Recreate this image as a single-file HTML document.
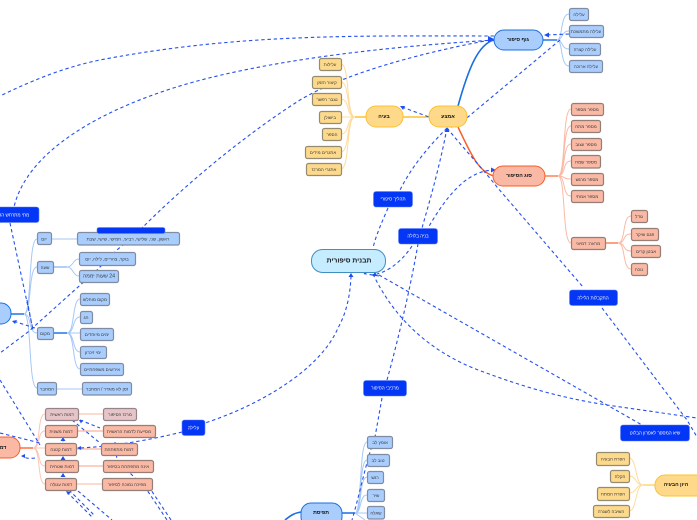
<!DOCTYPE html>
<html lang="he"><head><meta charset="utf-8"><title>תבנית סיפורית</title>
<style>
html,body{margin:0;padding:0;background:#fff;width:697px;height:520px;overflow:hidden}
svg{display:block;font-family:"Liberation Sans","DejaVu Sans",sans-serif}
text{text-anchor:middle;dominant-baseline:central;direction:rtl;font-size:4.5px;fill:#3a3a3a}
.m{font-size:6.8px;font-weight:bold;fill:#111}
.s{font-size:5.2px;font-weight:bold;fill:#111}
.w{fill:#fff;font-size:4.6px}
.b rect{fill:#a9cdfd;stroke:#7f8ca3;stroke-width:1.2}
.y rect{fill:#fdd98c;stroke:#958b70;stroke-width:1.2}
.o rect{fill:#f9b9a5;stroke:#947e76;stroke-width:1.2}
.p rect{fill:#e6c5c8;stroke:#97838a;stroke-width:1.2}
.l rect{fill:#0436f6;stroke:#5f80f8;stroke-width:.6}
.d path{fill:none;stroke:#2350ee;stroke-width:1.1;stroke-dasharray:3.4 2.8}
.c path{fill:none;stroke-width:1}
.a{fill:#1f4ff0}
</style></head><body>
<svg width="697" height="520" viewBox="0 0 697 520" xmlns="http://www.w3.org/2000/svg">

<!-- branch connectors -->
<g class="c">
<path stroke="#a6c8f7" d="M544,40H557C563,40 560,14 569,14M557,40C563,40 561,31 569,31M557,40C563,40 561,49 569,49M557,40C563,40 560,66 569,66"/>
<path stroke="#1a6fe0" style="stroke-width:1.4" d="M543,40H557"/>
<path stroke="#1a6fe0" style="stroke-width:1.6" d="M458,106C468,70 478,44 494,40"/>
<path stroke="#fb5c28" style="stroke-width:1.5" d="M458,127C470,152 478,172 494,176"/>
<path stroke="#fdc12f" style="stroke-width:1.5" d="M403,117H429M355,117H366"/>
<path stroke="#fedc9c" d="M355,117C346,117 350,64 341,64M355,117C346,117 350,82 341,82M355,117C346,117 350,99 341,99M355,117H341M355,117C346,117 350,134 341,134M355,117C346,117 350,152 341,152M355,117C346,117 350,169 341,169"/>
<path stroke="#fb7a50" style="stroke-width:1.4" d="M545,176H558"/>
<path stroke="#fcb9a5" d="M558,176C566,176 562,109 571,109M558,176C566,176 562,126 571,126M558,176C566,176 562,144 571,144M558,176C566,176 562,161 571,161M558,176C566,176 562,179 571,179M558,176C566,176 562,196 571,196M558,176C566,176 562,243 571,243"/>
<path stroke="#fb7a50" style="stroke-width:1.4" d="M605,243H618"/>
<path stroke="#fcb9a5" d="M618,243C626,243 622,216 631,216M618,243C626,243 622,234 631,234M618,243C626,243 622,251 631,251M618,243C626,243 622,269 631,269"/>
<path stroke="#2e7fe8" style="stroke-width:1.6" d="M11,314H24"/>
<path stroke="#a6c8f7" d="M24,314C32,314 28,239 37,239M24,314C32,314 28,267 37,267M24,314C32,314 28,333 37,333M24,314C32,314 28,388 37,388"/>
<path stroke="#c3d9f8" style="stroke-width:1.6" d="M51,239H77M56,389H82"/>
<path stroke="#7cb0f2" style="stroke-width:1.2" d="M53,267H67"/>
<path stroke="#a6c8f7" d="M67,267C73,267 73,259 79,259M67,267C73,267 73,276 79,276"/>
<path stroke="#2e7fe8" style="stroke-width:1.6" d="M53,333H67"/>
<path stroke="#a6c8f7" d="M67,333C75,333 72,299 80,299M67,333C75,333 72,317 80,317M67,333H80M67,333C75,333 72,352 80,352M67,333C75,333 72,369 80,369"/>
<path stroke="#fb7a50" style="stroke-width:1.6" d="M20,448H33"/>
<path stroke="#fcc6b6" d="M33,448C41,448 37,414 45,414M33,448C41,448 37,431 45,431M33,448H45M33,448C41,448 37,466 45,466M33,448C41,448 37,484 45,484"/>
<path stroke="#fcd0c2" style="stroke-width:1.4" d="M78,414H103M76,484H102"/>
<path stroke="#fb9f85" d="M77,431H103M76,449H101M78,466H103"/>
<path stroke="#1a6fe0" style="stroke-width:1.6" d="M342,513H355M301,512C294,513 290,516 285,520"/>
<path stroke="#a6c8f7" d="M355,513C362,513 359,442 367,442M355,513C362,513 359,460 367,460M355,513C362,513 359,477 367,477M355,513C362,513 359,495 367,495M355,513H367M355,513L365,520"/>
<path stroke="#fdc12f" d="M655,485H643"/>
<path stroke="#fedc9c" d="M643,485C635,485 637,458 629,458M643,485C635,485 637,476 629,476M643,485C635,485 637,493 629,493M643,485C635,485 637,511 629,511"/>
</g>

<!-- dashed relationship lines -->
<g class="d">
<path d="M494,36C360,36 240,33 100,60C60,68 25,84 0,96"/>
<path d="M494,40C400,46 300,56 213,77C130,97 30,140 14,207"/>
<path d="M490,40C410,55 340,76 300,100C240,138 180,190 143,227"/>
<path d="M143,227L117,250L97,270L28,332L0,353"/>
<path d="M569,34L546,35M560,40L468,117L447,130"/>
<path d="M402,107L429,117"/>
<path d="M447,128C465,150 482,168 497,187L583,287"/>
<path d="M602,308L687,420L697,437"/>
<path d="M447,128C425,150 410,170 400,190"/>
<path d="M388,208C382,222 376,235 373,248"/>
<path d="M447,128C440,165 430,200 422,228"/>
<path d="M495,170C470,170 450,190 428,228"/>
<path d="M412,246C404,258 392,270 377,274"/>
<path d="M387,380C398,340 410,290 418,244"/>
<path d="M382,398L375,437L370,452C362,480 358,500 352,520"/>
<path d="M379,275L607,405L642,425"/>
<path d="M373,274C395,320 430,350 473,368C515,384 555,397 607,405L697,418"/>
<path d="M379,276L366,274"/>
<path d="M351,276C350,300 345,315 338,328C320,370 260,405 205,423"/>
<path d="M182,432C150,440 110,447 78,448"/>
<path d="M10,223L33,330M27,300L33,330"/>
<path d="M35,328L13,321"/>
<path d="M0,380L40,445"/>
<path d="M0,433L40,443"/>
<path d="M80,420L100,428M72,420L100,443"/>
<path d="M35,458C28,459 26,458 22,456"/>
<path d="M63,460V472"/>
<path d="M63,438V443"/>
<path d="M67,492L93,518M69,490L95,516"/>
<path d="M78,491L112,520"/>
<path d="M115,442L117,460L147,490L167,520M147,480L151,490L171,520"/>
</g>

<!-- arrowheads -->
<g class="a">
<path d="M494,39l-6,-3v6z"/><path d="M544,35l5,-2.500v5z"/>
<path d="M400,106l5,0l-2,4z"/><path d="M447,128l-2.500,4h5z"/>
<path d="M496,170l-5,-2.500v5z"/>
<path d="M351,273l-2.500,4h5z"/><path d="M365,275l-2.500,-3.500h5z"/><path d="M375,272l-2.500,4h5z"/>
<path d="M12,321l5,-1l-2,4z"/><path d="M77,448l4,-2v4z"/><path d="M21,456l4,-2v4z"/>
<path d="M63,437l-2.500,4h5z"/><path d="M63,456l-2.500,4h5z"/><path d="M63,473l-2.500,4h5z"/>
<path d="M66,491l5,1l-3,3z"/><path d="M79,420l4,0l-2,3.500z"/>
</g>

<!-- main nodes -->
<rect x="494" y="30" width="49" height="20" rx="10" fill="#a9cdfd" stroke="#1a6fe0"/>
<text x="518" y="40" class="s">גוף סיפור</text>
<rect x="429" y="106" width="38" height="21" rx="10" fill="#fed98a" stroke="#fdc12f"/>
<text x="448" y="117" class="s">אמצע</text>
<rect x="366" y="106" width="37" height="21" rx="10" fill="#fed98a" stroke="#fdc12f"/>
<text x="384" y="117" class="s">בעיה</text>
<rect x="493" y="166" width="52" height="20" rx="10" fill="#f9b9a5" stroke="#fb5c28"/>
<text x="519" y="176" class="s">סוג הסיפור</text>
<rect x="311.500" y="249.500" width="74" height="23" rx="11" fill="#c6ecff" stroke="#3f8fc4"/>
<text x="349" y="261" class="m">תבנית סיפורית</text>
<rect x="-30" y="303" width="41" height="21" rx="10" fill="#a9cdfd" stroke="#1a6fe0"/>
<rect x="-24" y="437" width="44" height="21" rx="10" fill="#f9b9a5" stroke="#fb5c28"/>
<text x="3" y="448" class="s">דמ</text>
<rect x="301" y="503" width="41" height="24" rx="10" fill="#a9cdfd" stroke="#1a6fe0"/>
<text x="321" y="513" class="s">תפיסת</text>
<rect x="655" y="475" width="70" height="21" rx="10" fill="#fed98a" stroke="#fdc12f"/>
<text x="676" y="485" class="s">היון הבעיה</text>

<!-- blue child nodes -->
<g class="b">
<rect x="569.500" y="8.500" width="19" height="12" rx="2"/><text x="579" y="14.500">עלילה</text>
<rect x="569.500" y="25.500" width="34" height="12" rx="2"/><text x="586" y="31.500">עלילה מתמשכת</text>
<rect x="569.500" y="43.500" width="31" height="12" rx="2"/><text x="585" y="49.500">עלילה קצרה</text>
<rect x="569.500" y="60.500" width="33" height="12" rx="2"/><text x="586" y="66.500">עלילה ארוכה</text>
<rect x="37.500" y="232.500" width="14" height="12" rx="2"/><text x="44" y="239">יום</text>
<rect x="77.500" y="232.500" width="102" height="12.500" rx="2"/><text x="128" y="239">ראשון, שני, שלישי, רביעי, חמישי, שישי, שבת</text>
<rect x="37.500" y="261.500" width="16" height="12" rx="2"/><text x="45" y="267.500">שעה</text>
<rect x="79.500" y="252.500" width="56" height="13" rx="2"/><text x="107" y="259">בוקר, צהריים, לילה, יום</text>
<rect x="79.500" y="270.500" width="39" height="12" rx="2"/><text x="99" y="276.500" style="font-size:5.2px">24 שעות יממה</text>
<rect x="37.500" y="327.500" width="16" height="12" rx="2"/><text x="45" y="333.500">מקום</text>
<rect x="80.500" y="293.500" width="29" height="12" rx="2"/><text x="95" y="299.500">מקום מוחלש</text>
<rect x="80.500" y="311.500" width="12" height="12" rx="2"/><text x="86" y="317.500">חג</text>
<rect x="80.500" y="328.500" width="33" height="12" rx="2"/><text x="97" y="334.500">ימים מיוחדים</text>
<rect x="80.500" y="346.500" width="26" height="12" rx="2"/><text x="93" y="352.500">ימי זיכרון</text>
<rect x="80.500" y="363.500" width="43" height="12" rx="2"/><text x="102" y="369.500">אירועים משפחתיים</text>
<rect x="37.500" y="382.500" width="19" height="12.500" rx="2"/><text x="47" y="389">המחבר</text>
<rect x="82.500" y="382.500" width="49" height="12.500" rx="2"/><text x="107" y="389">זמן לא מוגדר / המחבר</text>
<rect x="367.500" y="436.500" width="25" height="12" rx="2"/><text x="380" y="442.500">אומץ לב</text>
<rect x="367.500" y="454.500" width="22" height="12" rx="2"/><text x="378" y="460.500">טוב לב</text>
<rect x="367.500" y="471.500" width="16" height="12" rx="2"/><text x="375" y="477.500">רגש</text>
<rect x="367.500" y="489.500" width="17" height="12" rx="2"/><text x="376" y="495.500">שיר</text>
<rect x="367.500" y="506.500" width="17" height="12.500" rx="2"/><text x="376" y="513">שאלה</text>
</g>

<!-- yellow child nodes -->
<g class="y">
<rect x="319.500" y="58.500" width="22" height="12" rx="2"/><text x="330" y="64.500">עלילות</text>
<rect x="312.500" y="76.500" width="29" height="12" rx="2"/><text x="327" y="82.500">קיצור הזמן</text>
<rect x="312.500" y="93.500" width="29" height="12" rx="2"/><text x="327" y="99.500">נצבר רפשר</text>
<rect x="319.500" y="111.500" width="22" height="12" rx="2"/><text x="330" y="117.500">בישולן</text>
<rect x="322.500" y="128.500" width="19" height="12" rx="2"/><text x="332" y="134.500">הספר</text>
<rect x="305.500" y="146.500" width="36" height="12" rx="2"/><text x="323" y="152.500">אתגרים מידים</text>
<rect x="306.500" y="163.500" width="35" height="12" rx="2"/><text x="324" y="169.500">אתגרי המרכז</text>
<rect x="596.500" y="452.500" width="33" height="13" rx="2"/><text x="613" y="459">הפרת הבעיה</text>
<rect x="610.500" y="470.500" width="19" height="12" rx="2"/><text x="620" y="476.500">הקלה</text>
<rect x="597.500" y="487.500" width="32" height="13" rx="2"/><text x="613" y="494">הפרת המתח</text>
<rect x="593.500" y="505.500" width="36" height="12" rx="2"/><text x="611" y="511.500">השיבה לשגרה</text>
</g>

<!-- orange child nodes -->
<g class="o">
<rect x="571.500" y="103.500" width="32" height="12" rx="2"/><text x="587" y="109.500">מספר מספר</text>
<rect x="571.500" y="120.500" width="29" height="12" rx="2"/><text x="586" y="126.500">מספר מתח</text>
<rect x="571.500" y="138.500" width="30" height="12" rx="2"/><text x="586" y="144.500">מספר עצוב</text>
<rect x="571.500" y="155.500" width="29" height="12.500" rx="2"/><text x="586" y="162">מספר שמח</text>
<rect x="571.500" y="173.500" width="32" height="12" rx="2"/><text x="587" y="179.500">מספר מרגש</text>
<rect x="571.500" y="190.500" width="32" height="12" rx="2"/><text x="587" y="196.500">מספר אמתי</text>
<rect x="571.500" y="237.500" width="34" height="12" rx="2"/><text x="588" y="243.500">מראה: דמיוני</text>
<rect x="631.500" y="210.500" width="16" height="12" rx="2"/><text x="639" y="216.500">גודל</text>
<rect x="631.500" y="228.500" width="27" height="12" rx="2"/><text x="645" y="234.500">פגם שיקר</text>
<rect x="631.500" y="245.500" width="29" height="12" rx="2"/><text x="646" y="251.500">אבטן קרים</text>
<rect x="631.500" y="263.500" width="16" height="12" rx="2"/><text x="639" y="269.500">נוכח</text>
<rect x="45.500" y="425.500" width="32" height="12" rx="2"/><text x="61" y="431.500">דמות משנית</text>
<rect x="45.500" y="443.500" width="31" height="12" rx="2"/><text x="61" y="449.500">דמות קטנה</text>
<rect x="45.500" y="460.500" width="33" height="12" rx="2"/><text x="62" y="466.500">דמות שטחית</text>
<rect x="45.500" y="478.500" width="31" height="12" rx="2"/><text x="61" y="484.500">דמות עגולה</text>
<rect x="103.500" y="425.500" width="52" height="12" rx="2"/><text x="129" y="431.500">מסייעת לדמות הראשית</text>
<rect x="101.500" y="443.500" width="36" height="12" rx="2"/><text x="119" y="449.500">דמות מתפתחת</text>
<rect x="103.500" y="460.500" width="50" height="12" rx="2"/><text x="128" y="466.500">אינה מתפתחת בסיפור</text>
<rect x="102.500" y="478.500" width="50" height="12" rx="2"/><text x="127" y="484.500">מפיכה נמוכה לסיפור</text>
</g>
<g class="p">
<rect x="45.500" y="408.500" width="33" height="12" rx="2"/><text x="62" y="414.500">דמות ראשית</text>
<rect x="103.500" y="408.500" width="33" height="12" rx="2"/><text x="120" y="414.500">מרכז הסיפור</text>
</g>

<!-- blue label nodes -->
<g class="l">
<rect x="97" y="227.500" width="68" height="6" rx="2"/>
<rect x="-30" y="207" width="69" height="15.500" rx="2.500"/>
<rect x="373.500" y="191.500" width="39" height="15.500" rx="2.500"/>
<rect x="398.500" y="228.500" width="39" height="15.500" rx="2.500"/>
<rect x="569.500" y="290" width="48" height="15.500" rx="2.500"/>
<rect x="363.500" y="380.500" width="43" height="15.500" rx="2.500"/>
<rect x="182" y="420" width="23" height="15.500" rx="2.500"/>
<rect x="620.500" y="425" width="69" height="16" rx="2.500"/>
</g>
<text x="10" y="215" class="w">מתי מתרחש הסיפור</text>
<text x="393" y="199" class="w">תהליך סיפורי</text>
<text x="418" y="236" class="w">בניה בלולה</text>
<text x="593" y="298" class="w">התקבלות הלילה</text>
<text x="385" y="388" class="w">מרכיבי הסיפור</text>
<text x="193.500" y="428" class="w">עלילה</text>
<text x="655" y="433" class="w">שיא המספר לאפרון הבלוט</text>
</svg>
</body></html>
